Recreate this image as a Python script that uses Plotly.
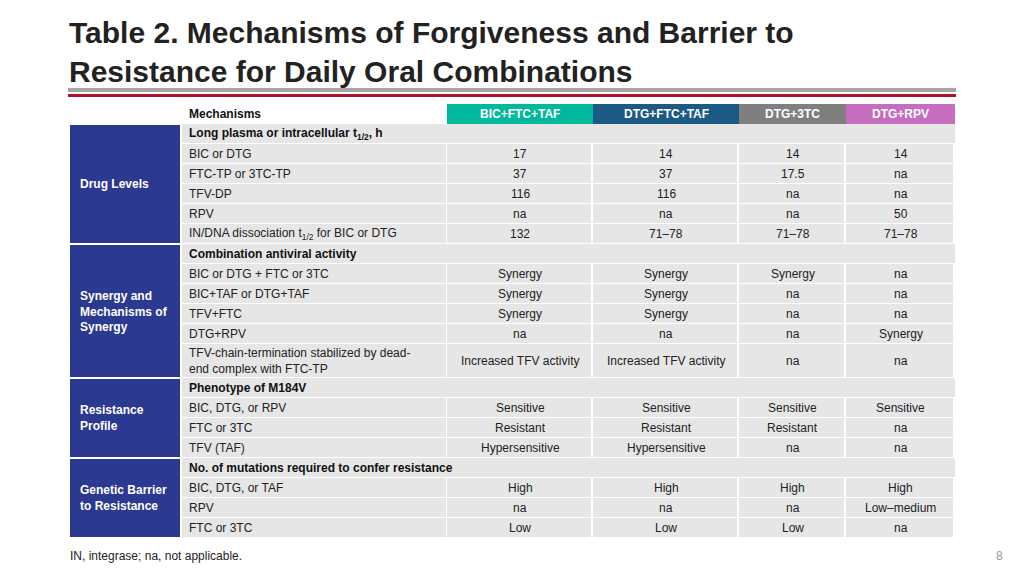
import plotly.graph_objects as go

title = "Table 2. Mechanisms of Forgiveness and Barrier to<br>Resistance for Daily Oral Combinations"
regimens = ["BIC+FTC+TAF", "DTG+FTC+TAF", "DTG+3TC", "DTG+RPV"]
regimen_colors = ["#00b89c", "#1c5a86", "#7f7f7f", "#c56dbf"]
groups = ["Drug Levels", "Synergy and<br>Mechanisms of<br>Synergy", "Resistance<br>Profile", "Genetic Barrier<br>to Resistance"]
group_rows = [(0, 6), (6, 12), (12, 16), (16, 20)]
mechanisms = [
    "Long plasma or intracellular t<sub>1/2</sub>, h", "BIC or DTG", "FTC-TP or 3TC-TP", "TFV-DP", "RPV",
    "IN/DNA dissociation t<sub>1/2</sub> for BIC or DTG",
    "Combination antiviral activity", "BIC or DTG + FTC or 3TC", "BIC+TAF or DTG+TAF", "TFV+FTC", "DTG+RPV",
    "TFV-chain-termination stabilized by dead-<br>end complex with FTC-TP",
    "Phenotype of M184V", "BIC, DTG, or RPV", "FTC or 3TC", "TFV (TAF)",
    "No. of mutations required to confer resistance", "BIC, DTG, or TAF", "RPV", "FTC or 3TC",
]
bold_rows = {0, 6, 12, 16}
values = [
    ["", "", "", ""], ["17", "14", "14", "14"], ["37", "37", "17.5", "na"], ["116", "116", "na", "na"],
    ["na", "na", "na", "50"], ["132", "71–78", "71–78", "71–78"],
    ["", "", "", ""], ["Synergy", "Synergy", "Synergy", "na"], ["Synergy", "Synergy", "na", "na"],
    ["Synergy", "Synergy", "na", "na"], ["na", "na", "na", "Synergy"],
    ["Increased TFV activity", "Increased TFV activity", "na", "na"],
    ["", "", "", ""], ["Sensitive", "Sensitive", "Sensitive", "Sensitive"],
    ["Resistant", "Resistant", "Resistant", "na"], ["Hypersensitive", "Hypersensitive", "na", "na"],
    ["", "", "", ""], ["High", "High", "High", "High"], ["na", "na", "na", "Low–medium"],
    ["Low", "Low", "Low", "na"],
]
row_heights = [20]*11 + [34] + [20]*8
footnote = "IN, integrase; na, not applicable."
page = "8"

FONT = "Liberation Sans, Arial, sans-serif"
col_x = [447, 593, 739, 846, 955]
grp_x0, grp_x1, mech_x0 = 70, 180, 182
hdr_y0, hdr_y1 = 104, 124

fig = go.Figure()
shapes, ann = [], []

def rect(x0, y0, x1, y1, color):
    shapes.append(dict(type="rect", x0=x0, x1=x1, y0=y0, y1=y1, fillcolor=color,
                       line=dict(width=0), layer="below"))

rect(68, 88, 956, 92, "#a6a6a6")
rect(68, 94, 956, 97, "#b0122a")

ann.append(dict(x=67, y=14, xanchor="left", yanchor="top", text="<b>" + title + "</b>", align="left",
                showarrow=False, font=dict(family="Liberation Sans Narrow, Arial Narrow, " + FONT, size=30, color="#222")))

ann.append(dict(x=187, y=114, xanchor="left", text="<b>Mechanisms</b>", showarrow=False,
                font=dict(family=FONT, size=12, color="#111")))
for i, r in enumerate(regimens):
    rect(col_x[i], hdr_y0, col_x[i+1], hdr_y1, regimen_colors[i])
    ann.append(dict(x=(col_x[i]+col_x[i+1])/2, y=114, text="<b>" + r + "</b>", showarrow=False,
                    font=dict(family=FONT, size=12, color="white")))

ys = [hdr_y1]
for h in row_heights:
    ys.append(ys[-1] + h)
for i, m in enumerate(mechanisms):
    y0, y1 = ys[i], ys[i+1]
    yc = (y0 + y1) / 2
    if i in bold_rows:
        rect(mech_x0, y0, col_x[-1], y1 - 1, "#e6e6e6")
        ann.append(dict(x=187, y=yc, xanchor="left", text="<b>" + m + "</b>", showarrow=False,
                        font=dict(family=FONT, size=12, color="#111")))
    else:
        rect(mech_x0, y0, col_x[0] - 1, y1 - 1, "#e6e6e6")
        ann.append(dict(x=187, y=yc, xanchor="left", text=m, align="left", showarrow=False,
                        font=dict(family=FONT, size=12, color="#222")))
        for j, v in enumerate(values[i]):
            rect(col_x[j], y0, col_x[j+1] - 2, y1 - 1, "#e6e6e6")
            ann.append(dict(x=(col_x[j]+col_x[j+1])/2, y=yc, text=v, showarrow=False,
                            font=dict(family=FONT, size=12, color="#222")))

for g, (a, b) in zip(groups, group_rows):
    y0, y1 = ys[a] + 1, ys[b] - 1
    rect(grp_x0, y0, grp_x1, y1, "#2b3990")
    ann.append(dict(x=78, y=(y0+y1)/2, xanchor="left", text="<b>" + g + "</b>", align="left", showarrow=False,
                    font=dict(family=FONT, size=12, color="white")))

ann.append(dict(x=68, y=556, xanchor="left", text=footnote, showarrow=False,
                font=dict(family=FONT, size=12, color="#222")))
ann.append(dict(x=1005, y=556, xanchor="right", text=page, showarrow=False,
                font=dict(family=FONT, size=12, color="#999")))

for a in ann:
    a.setdefault("yanchor", "middle")
    a.setdefault("xanchor", "center")
    a["xref"] = "x"; a["yref"] = "y"

fig.update_layout(width=1024, height=576, margin=dict(l=0, r=0, t=0, b=0),
                  paper_bgcolor="white", plot_bgcolor="white", shapes=shapes, annotations=ann,
                  xaxis=dict(range=[0, 1024], visible=False, fixedrange=True),
                  yaxis=dict(range=[576, 0], visible=False, fixedrange=True), showlegend=False)
fig.write_html("out.html", config={"displayModeBar": False},
               post_script="document.body.style.margin='0';document.body.style.overflow='hidden';")
